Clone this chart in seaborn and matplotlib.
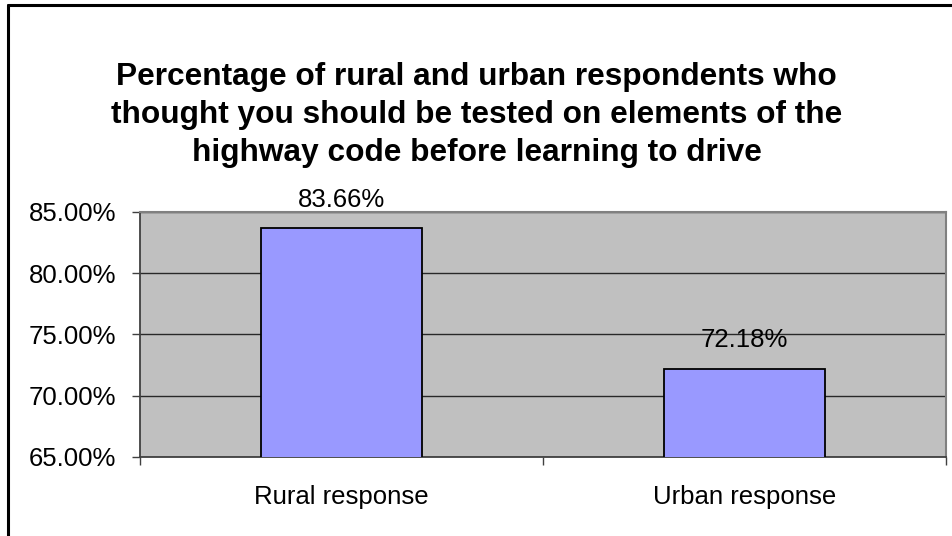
import matplotlib
matplotlib.use("Agg")
import matplotlib.pyplot as plt
import seaborn as sns
import pandas as pd
from matplotlib.ticker import FixedLocator, FuncFormatter
from matplotlib.lines import Line2D

categories = ["Rural response", "Urban response"]
values = [83.66, 72.18]
yticks = [65, 70, 75, 80, 85]
title = ("Percentage of rural and urban respondents who\n"
         "thought you should be tested on elements of the\n"
         "highway code before learning to drive")

sns.set_theme(style="white")
plt.rcParams['font.family'] = ['Liberation Sans', 'DejaVu Sans']

df = pd.DataFrame({"category": categories, "value": values})

W, H = 953, 536
fig = plt.figure(figsize=(W / 100, H / 100), dpi=100)
fig.patch.set_facecolor("white")
ax = fig.add_axes([140 / W, 1 - 457 / H, (946 - 140) / W, (457 - 212) / H])
ax.set_facecolor("#C0C0C0")

sns.barplot(data=df, x="category", y="value", order=categories, color="#9999FF",
            saturation=1, width=0.4, edgecolor="black", linewidth=1.3, ax=ax, zorder=3)

ax.set_ylim(65, 85)
ax.set_xlim(-0.5, 1.5)
ax.set_yticks(yticks)
ax.yaxis.set_major_formatter(FuncFormatter(lambda v, p: f"{v:.2f}%"))
ax.grid(axis="y", color="#282828", linewidth=1.0, zorder=1)
ax.set_axisbelow(True)
ax.set_xlabel("")
ax.set_ylabel("")

ax.tick_params(axis="y", which="major", length=6, width=1, color="#404040",
               labelsize=18.5, pad=11, labelcolor="black", left=True)
ax.tick_params(axis="x", which="major", length=0, labelsize=18.5, pad=20, labelcolor="black")
ax.xaxis.set_minor_locator(FixedLocator([-0.5, 0.5, 1.5]))
ax.tick_params(axis="x", which="minor", length=6, width=1, color="#404040", bottom=True)

for s in ["top", "right"]:
    ax.spines[s].set_color("#808080")
    ax.spines[s].set_linewidth(1.5)
for s in ["left", "bottom"]:
    ax.spines[s].set_color("#404040")
    ax.spines[s].set_linewidth(1.3)

for cont in ax.containers:
    ax.bar_label(cont, labels=[f"{v:.2f}%" for v in values], padding=12,
                 fontsize=18.5, color="black")

fig.text(476.5 / W, 1 - 115 / H, title, ha="center", va="center", fontsize=22.8,
         fontweight="bold", linespacing=1.33, color="black")

# figure border (left and top edges visible)
fig.add_artist(Line2D([8 / W, 8 / W], [0, 1 - 5 / H], color="black", linewidth=2.2,
                      transform=fig.transFigure))
fig.add_artist(Line2D([8 / W, 1], [1 - 5 / H, 1 - 5 / H], color="black", linewidth=2.2,
                      transform=fig.transFigure))

fig.savefig("out.png", dpi=100, facecolor="white")
